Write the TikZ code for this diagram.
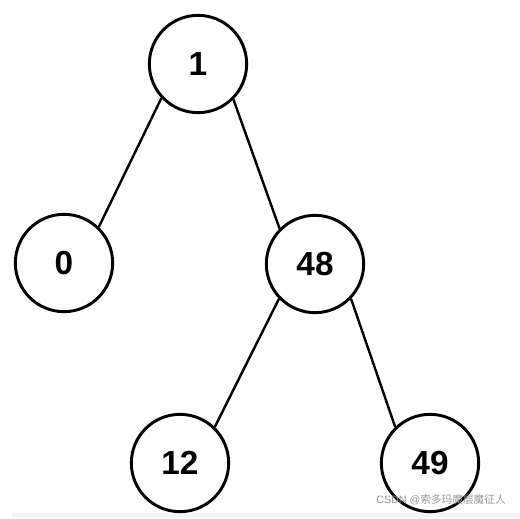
\documentclass[tikz,border=0pt]{standalone}
\usepackage{fontspec}
\setmainfont{Liberation Sans}
\newfontfamily\cjk{Noto Sans CJK SC}
\begin{document}
\begin{tikzpicture}[x=0.75pt,y=-0.75pt,
  tnode/.style={circle,draw=black,line width=2.2pt,minimum size=73pt,inner sep=0pt,font=\fontsize{25}{30}\selectfont\bfseries},
  edge/.style={line width=1.8pt,draw=black}]
\useasboundingbox (0,0) rectangle (520,518);
\fill[fill={rgb,255:red,244;green,245;blue,247}] (12,513) rectangle (520,518);
\node[tnode] (n1) at (198,64) {1};
\node[tnode] (n0) at (64,263) {0};
\node[tnode] (n48) at (315,264) {48};
\node[tnode] (n12) at (180,463) {12};
\node[tnode] (n49) at (430,463) {49};
\draw[edge] (n1.223) -- (n0.46);
\draw[edge] (n1.315) -- (n48.135);
\draw[edge] (n48.224) -- (n12.46);
\draw[edge] (n48.316) -- (n49.134);
\node[anchor=east,inner sep=0pt,text={rgb,255:red,150;green,150;blue,150},font=\fontsize{8}{10}\selectfont] (wm) at (506,500) {CSDN @{\cjk 索多玛魔层魔征人}};
\end{tikzpicture}
\end{document}
